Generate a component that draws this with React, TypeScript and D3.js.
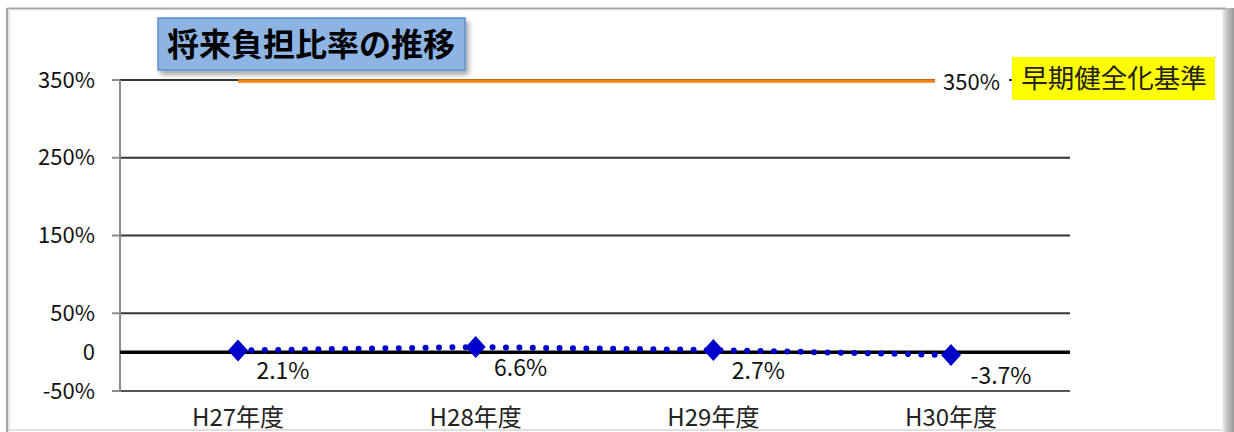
import React from "react";
import * as d3 from "d3";

const categories = ["H27年度", "H28年度", "H29年度", "H30年度"];
const ratioValues = [2.1, 6.6, 2.7, -3.7];
const ratioLabels = ["2.1%", "6.6%", "2.7%", "-3.7%"];
const standardValues = [350, 350, 350, 350];
const standardLabel = "350%";
const standardName = "早期健全化基準";
const yTicks = [-50, 0, 50, 150, 250, 350];
const yTickLabels = ["-50%", "0", "50%", "150%", "250%", "350%"];
const gridValues = [50, 150, 250, 350];
const title = "将来負担比率の推移";

const W = 1234;
const H = 432;
const FONT = "'Noto Sans CJK JP', 'Noto Sans', sans-serif";

export default function App() {
  const x = d3.scalePoint<string>().domain(categories).range([238, 951]);
  const y = d3.scaleLinear().domain([-50, 350]).range([391, 80]);

  const dotted = d3
    .line<number>()
    .x((_, i) => x(categories[i]) as number)
    .y((d) => y(d));

  const stdLine = d3
    .line<number>()
    .x((_, i) => x(categories[i]) as number)
    .y((d) => y(d) + 1);

  return (
    <svg
      width={W}
      height={H}
      style={{ position: "absolute", left: 0, top: 0, background: "#fff" }}
      fontFamily={FONT}
    >
      <defs>
        <filter id="sh" x="-10%" y="-20%" width="130%" height="160%">
          <feDropShadow dx="3" dy="4" stdDeviation="2.5" floodColor="#000" floodOpacity="0.35" />
        </filter>
        <linearGradient id="rightShadow" x1="0" x2="1" y1="0" y2="0">
          <stop offset="0" stopColor="#f2f2f2" />
          <stop offset="0.5" stopColor="#bdbdbd" />
          <stop offset="1" stopColor="#9a9a9a" />
        </linearGradient>
      </defs>
      {/* outer frame */}
      <rect x={0} y={0} width={W} height={H} fill="#fff" />
      <rect x={1222} y={8} width={12} height={424} fill="url(#rightShadow)" />
      <line x1={7} x2={1226} y1={8.5} y2={8.5} stroke="#a6a6a6" strokeWidth={2} />
      <line x1={7} x2={7} y1={8} y2={432} stroke="#a6a6a6" strokeWidth={2} />
      <line x1={9} x2={9} y1={9} y2={432} stroke="#e6e6e6" strokeWidth={2} />
      <line x1={8} x2={1222} y1={430} y2={430} stroke="#e0e0e0" strokeWidth={2} />

      {/* gridlines */}
      {gridValues.map((v) => (
        <line key={v} x1={120} x2={1070} y1={y(v)} y2={y(v)} stroke="#333" strokeWidth={2} />
      ))}
      {/* bottom axis */}
      <line x1={120} x2={1070} y1={y(-50)} y2={y(-50)} stroke="#555" strokeWidth={2} />
      {/* y axis */}
      <line x1={120} x2={120} y1={y(350)} y2={y(-50) + 1} stroke="#8c8c8c" strokeWidth={2} />
      {yTicks.map((v, i) => (
        <g key={v}>
          {v !== 0 && (
            <line x1={112} x2={120} y1={y(v)} y2={y(v)} stroke="#8c8c8c" strokeWidth={2} />
          )}
          <text
            x={95}
            y={y(v)}
            dy="0.35em"
            textAnchor="end"
            fontSize={22}
            fill="#111"
          >
            {yTickLabels[i]}
          </text>
        </g>
      ))}
      {/* zero line */}
      <line x1={120} x2={1070} y1={y(0)} y2={y(0)} stroke="#000" strokeWidth={3.5} />

      {/* standard line */}
      <path d={stdLine(standardValues) || ""} fill="none" stroke="#F0820F" strokeWidth={3.5} />
      <rect x={935} y={66} width={74} height={30} fill="#fff" />
      <text x={943} y={y(350) + 2} dy="0.35em" fontSize={22} fill="#111">
        {standardLabel}
      </text>
      <rect x={1012} y={57} width={203} height={43} fill="#FFFF00" />
      <text
        x={1114}
        y={79}
        dy="0.35em"
        textAnchor="middle"
        fontSize={26.5}
        fill="#222"
      >
        {standardName}
      </text>

      {/* ratio series */}
      <path
        d={dotted(ratioValues) || ""}
        fill="none"
        stroke="#0000CC"
        strokeWidth={6}
        strokeLinecap="round"
        strokeDasharray="0 13.4"
      />
      {ratioValues.map((v, i) => {
        const cx = x(categories[i]) as number;
        const cy = y(v);
        return (
          <g key={i}>
            <path
              d={`M${cx},${cy - 11} L${cx + 10},${cy} L${cx},${cy + 11} L${cx - 10},${cy} Z`}
              fill="#0000CC"
            />
            <text
              x={cx + (i === 3 ? 50 : 45)}
              y={cy + 29}
              textAnchor="middle"
              fontSize={23}
              fill="#111"
            >
              {ratioLabels[i]}
            </text>
          </g>
        );
      })}

      {/* x labels */}
      {categories.map((c) => (
        <text
          key={c}
          x={x(c) as number}
          y={426}
          textAnchor="middle"
          fontSize={24}
          fill="#222"
        >
          {c}
        </text>
      ))}

      {/* title */}
      <rect
        x={158}
        y={18}
        width={307}
        height={52}
        fill="#8DB4E2"
        stroke="#5B8FD0"
        strokeWidth={1.5}
        filter="url(#sh)"
      />
      <text
        x={311}
        y={44}
        dy="0.36em"
        textAnchor="middle"
        fontSize={32}
        fontWeight="bold"
        fill="#000"
      >
        {title}
      </text>
    </svg>
  );
}
